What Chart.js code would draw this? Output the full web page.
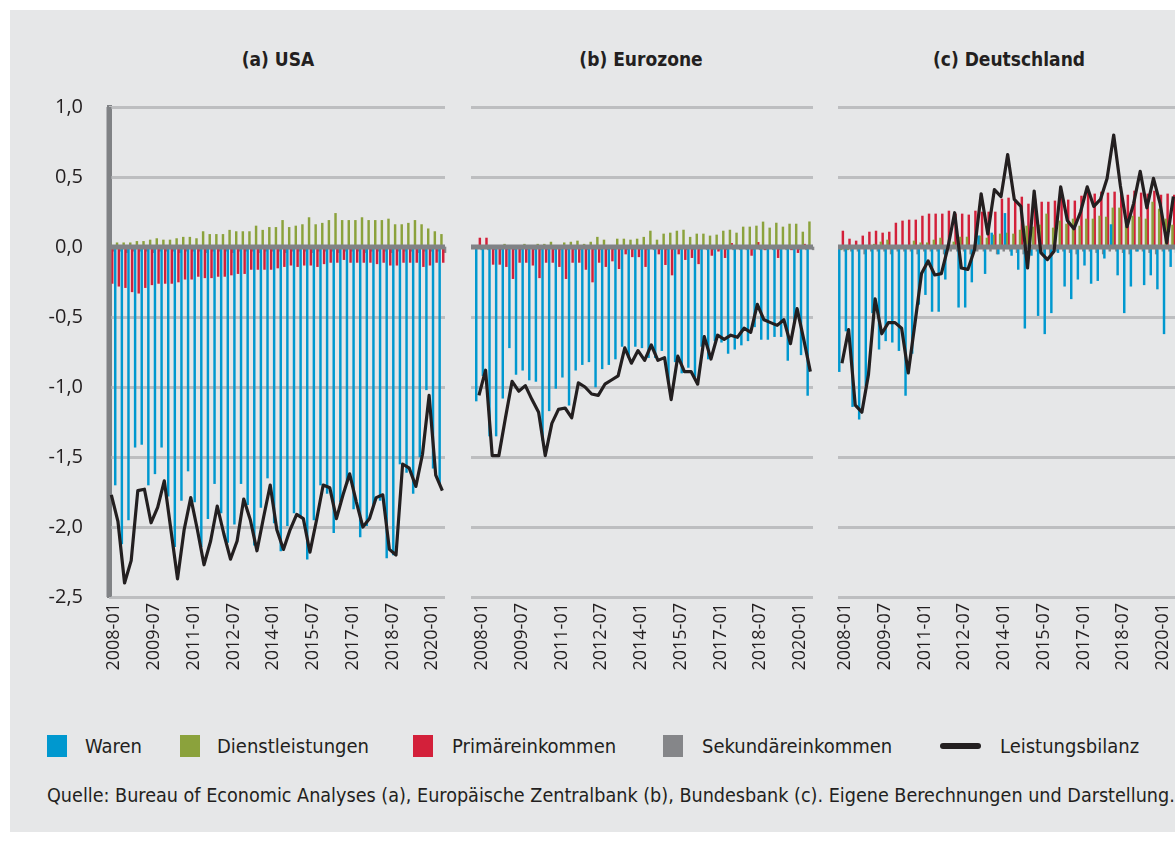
<!DOCTYPE html>
<html lang="de">
<head>
<meta charset="utf-8">
<script src="https://cdn.jsdelivr.net/npm/chart.js@4.4.0/dist/chart.umd.min.js"></script>
<style>
  html, body { margin: 0; padding: 0; background: #fff; width: 1175px; height: 847px; overflow: hidden; }
  #frame { position: absolute; left: 10px; top: 10px; width: 1175px; height: 822px; background: #e6e7e8; }
  canvas { position: absolute; }
  .title { position: absolute; top: 47px; font: bold 19px "DejaVu Sans Condensed", sans-serif;
           color: #231f20; transform: translateX(-50%); white-space: nowrap; line-height: 24px; }
  .sw { position: absolute; top: 735px; width: 20px; height: 22px; }
  .lt { position: absolute; top: 733px; font: 20px "DejaVu Sans Condensed", sans-serif;
        color: #231f20; line-height: 26px; white-space: nowrap; }
  #src { position: absolute; left: 47px; top: 783px; font: 19.6px "DejaVu Sans Condensed", sans-serif;
         color: #231f20; line-height: 26px; white-space: nowrap; }
</style>
</head>
<body>
<div id="frame"></div>
<div class="title" style="left:278px">(a) USA</div>
<div class="title" style="left:641px">(b) Eurozone</div>
<div class="title" style="left:1009px">(c) Deutschland</div>
<canvas id="usa"></canvas>
<canvas id="ez"></canvas>
<canvas id="de"></canvas>
<div id="legend"></div>
<div id="src">Quelle: Bureau of Economic Analyses (a), Europäische Zentralbank (b), Bundesbank (c). Eigene Berechnungen und Darstellung.</div>
<script>
// quarters 2008-01 .. 2020-07
const quarters = [
  "2008-01","2008-04","2008-07","2008-10","2009-01","2009-04","2009-07","2009-10",
  "2010-01","2010-04","2010-07","2010-10","2011-01","2011-04","2011-07","2011-10",
  "2012-01","2012-04","2012-07","2012-10","2013-01","2013-04","2013-07","2013-10",
  "2014-01","2014-04","2014-07","2014-10","2015-01","2015-04","2015-07","2015-10",
  "2016-01","2016-04","2016-07","2016-10","2017-01","2017-04","2017-07","2017-10",
  "2018-01","2018-04","2018-07","2018-10","2019-01","2019-04","2019-07","2019-10",
  "2020-01","2020-04","2020-07"
];
const tickPos = [0, 6, 12, 18, 24, 30, 36, 42, 48];
const yTicks = [1.0, 0.5, 0.0, -0.5, -1.0, -1.5, -2.0, -2.5];

// (a) USA
const usaWaren = [-1.51,-1.70,-2.12,-1.95,-1.43,-1.41,-1.70,-1.62,-1.43,-1.78,-2.14,-1.81,-1.60,-1.82,-2.14,-1.94,-1.69,
  -1.90,-2.11,-1.98,-1.69,-1.84,-2.13,-1.86,-1.65,-1.97,-2.17,-1.99,-1.90,-1.93,-2.23,-1.95,-1.70,-1.76,-2.04,-1.82,
  -1.69,-1.87,-2.07,-1.99,-1.84,-1.81,-2.22,-2.20,-1.55,-1.61,-1.76,-1.50,-1.02,-1.58,-1.69];
const usaDienst = [0.03,0.03,0.03,0.03,0.04,0.04,0.05,0.06,0.05,0.05,0.06,0.07,0.07,0.06,0.11,0.09,0.09,0.09,0.12,0.11,
  0.11,0.11,0.15,0.12,0.14,0.14,0.19,0.14,0.15,0.16,0.21,0.16,0.17,0.19,0.24,0.19,0.19,0.19,0.21,0.19,0.19,0.19,0.20,
  0.16,0.16,0.17,0.19,0.16,0.13,0.11,0.09];
const usaPrimaer = [-0.26,-0.28,-0.29,-0.32,-0.33,-0.29,-0.27,-0.26,-0.26,-0.26,-0.25,-0.23,-0.23,-0.21,-0.22,-0.22,
  -0.21,-0.21,-0.20,-0.19,-0.19,-0.16,-0.16,-0.16,-0.16,-0.15,-0.14,-0.13,-0.14,-0.13,-0.13,-0.14,-0.12,-0.11,-0.11,
  -0.09,-0.11,-0.11,-0.11,-0.11,-0.12,-0.11,-0.13,-0.13,-0.11,-0.11,-0.11,-0.14,-0.13,-0.11,-0.11];
const usaSekundaer = [-0.03,-0.03,-0.04,-0.03,-0.03,-0.03,-0.04,-0.03,-0.03,-0.03,-0.04,-0.03,-0.03,-0.03,-0.04,-0.03,
  -0.03,-0.03,-0.04,-0.03,-0.03,-0.03,-0.04,-0.03,-0.03,-0.03,-0.04,-0.03,-0.03,-0.03,-0.04,-0.03,-0.03,-0.03,-0.04,
  -0.03,-0.03,-0.03,-0.04,-0.03,-0.03,-0.03,-0.04,-0.03,-0.03,-0.03,-0.04,-0.03,-0.03,-0.03,-0.04];
const usaBilanz = [-1.77,-1.96,-2.40,-2.24,-1.74,-1.73,-1.97,-1.86,-1.67,-2.02,-2.37,-2.02,-1.79,-2.02,-2.27,-2.10,
  -1.85,-2.05,-2.23,-2.10,-1.80,-1.95,-2.17,-1.93,-1.70,-2.02,-2.16,-2.02,-1.91,-1.94,-2.18,-1.95,-1.70,-1.72,-1.94,
  -1.77,-1.62,-1.82,-2.00,-1.94,-1.79,-1.77,-2.16,-2.20,-1.55,-1.58,-1.71,-1.48,-1.06,-1.63,-1.74];

// (b) Eurozone
const ezWaren = [-1.10,-0.92,-1.35,-1.35,-1.08,-0.72,-0.91,-0.88,-0.95,-0.96,-1.38,-1.17,-1.01,-0.93,-1.13,-0.88,-0.84,
  -0.82,-1.00,-0.87,-0.84,-0.80,-0.71,-0.79,-0.71,-0.72,-0.79,-0.79,-0.74,-0.97,-0.82,-0.90,-0.86,-0.93,-0.71,-0.80,
  -0.67,-0.68,-0.76,-0.73,-0.70,-0.67,-0.57,-0.66,-0.66,-0.64,-0.64,-0.81,-0.54,-0.77,-1.06];
const ezDienst = [0.00,0.00,0.00,0.00,0.02,0.01,0.01,0.02,0.01,0.02,0.02,0.035,0.01,0.03,0.035,0.043,0.02,0.035,0.07,
  0.05,0.01,0.057,0.057,0.05,0.057,0.07,0.114,0.05,0.093,0.10,0.114,0.121,0.07,0.093,0.093,0.079,0.086,0.114,0.121,
  0.10,0.143,0.143,0.15,0.179,0.136,0.171,0.143,0.164,0.164,0.107,0.18];
const ezPrimaer = [0.064,0.064,-0.124,-0.124,-0.14,-0.226,-0.11,-0.11,-0.13,-0.22,-0.11,-0.11,-0.14,-0.226,-0.11,-0.11,
  -0.16,-0.25,-0.11,-0.14,-0.10,-0.155,-0.05,-0.07,-0.07,-0.14,0.0,-0.05,-0.126,-0.20,-0.05,-0.09,-0.076,-0.12,0.0,
  -0.06,-0.03,-0.076,0.026,0.0,0.0,-0.06,0.033,-0.02,0.0,-0.076,0.0,-0.02,-0.04,0.02,0.01];
const ezSekundaer = [-0.02,-0.02,-0.02,-0.02,-0.02,-0.02,-0.02,-0.02,-0.02,-0.02,-0.02,-0.02,-0.02,-0.02,-0.02,-0.02,
  -0.02,-0.02,-0.02,-0.02,-0.02,-0.02,-0.02,-0.02,-0.02,-0.02,-0.02,-0.02,-0.02,-0.02,-0.02,-0.02,-0.02,-0.02,-0.02,
  -0.02,-0.02,-0.02,-0.02,-0.02,-0.02,-0.02,-0.02,-0.02,-0.02,-0.02,-0.02,-0.02,-0.02,-0.02,-0.02];
const ezBilanz = [-1.06,-0.88,-1.49,-1.49,-1.22,-0.96,-1.03,-0.99,-1.09,-1.18,-1.49,-1.26,-1.16,-1.15,-1.22,-0.97,-1.00,
  -1.05,-1.06,-0.98,-0.95,-0.92,-0.72,-0.83,-0.74,-0.81,-0.70,-0.81,-0.79,-1.09,-0.78,-0.89,-0.89,-0.98,-0.64,-0.80,
  -0.63,-0.66,-0.63,-0.645,-0.58,-0.61,-0.41,-0.52,-0.54,-0.56,-0.52,-0.69,-0.44,-0.66,-0.89];

// (c) Deutschland
const deWaren = [-0.89,-0.60,-1.14,-1.23,-0.99,-0.47,-0.73,-0.67,-0.68,-0.74,-1.06,-0.76,-0.41,-0.34,-0.46,-0.46,-0.23,
  0.0,-0.43,-0.43,-0.25,0.08,-0.19,0.10,-0.05,0.24,-0.06,-0.16,-0.58,-0.06,-0.49,-0.62,-0.47,-0.04,-0.28,-0.37,-0.23,
  -0.13,-0.26,-0.24,-0.08,0.16,-0.20,-0.47,-0.28,-0.03,-0.27,-0.20,-0.30,-0.62,-0.14];
const deDienst = [-0.02,-0.02,0.0,0.0,0.0,0.02,0.036,0.05,0.0,0.0,0.0,0.043,0.03,0.03,0.05,0.064,0.0,0.036,0.071,0.071,
  0.0,0.079,0.064,0.086,0.093,0.10,0.093,0.121,0.15,0.143,0.157,0.236,0.136,0.186,0.164,0.20,0.15,0.20,0.20,0.221,
  0.214,0.279,0.279,0.193,0.221,0.214,0.20,0.321,0.271,0.20,0.157];
const dePrimaer = [0.114,0.057,0.043,0.079,0.107,0.114,0.10,0.107,0.171,0.186,0.193,0.193,0.221,0.236,0.236,0.236,
  0.257,0.236,0.236,0.229,0.257,0.25,0.25,0.25,0.343,0.35,0.336,0.357,0.307,0.343,0.321,0.321,0.329,0.364,0.336,0.329,
  0.364,0.393,0.379,0.393,0.386,0.393,0.386,0.371,0.40,0.386,0.379,0.40,0.371,0.379,0.371];
const deSekundaer = [-0.03,-0.03,-0.03,-0.05,-0.03,-0.03,-0.03,-0.05,-0.03,-0.03,-0.03,-0.05,-0.03,-0.03,-0.03,-0.05,
  -0.03,-0.03,-0.03,-0.05,-0.03,-0.03,-0.03,-0.05,-0.03,-0.03,-0.04,-0.05,-0.03,-0.03,-0.04,-0.05,-0.03,-0.03,-0.04,
  -0.05,-0.03,-0.03,-0.04,-0.05,-0.03,-0.03,-0.04,-0.05,-0.03,-0.03,-0.04,-0.05,-0.03,-0.03,-0.04];
const deBilanz = [-0.83,-0.59,-1.13,-1.18,-0.91,-0.37,-0.62,-0.54,-0.54,-0.58,-0.90,-0.55,-0.19,-0.10,-0.20,-0.19,0.0,
  0.245,-0.15,-0.16,-0.02,0.38,0.093,0.41,0.36,0.66,0.34,0.29,-0.15,0.40,-0.04,-0.09,-0.03,0.43,0.19,0.13,0.25,0.43,
  0.29,0.34,0.49,0.80,0.44,0.145,0.31,0.54,0.28,0.49,0.31,0.03,0.36];

const seriesNames = ["Waren", "Dienstleistungen", "Primäreinkommen", "Sekundäreinkommen", "Leistungsbilanz"];
const colors = ["#0098cf", "#8ba23c", "#d3203a", "#858689", "#231f20"];

const QW = 6.63;        // px per quarter
const X_MAX = 50.4;
const FONT = "'Open Sans', 'Noto Sans', sans-serif";

//-----------plugin: grey grid lines under the bars, zero line and y axis line over the bars-----------
const panelLines = {
  id: "panelLines",
  beforeDatasetsDraw(chart) {
    const { ctx, chartArea, scales } = chart;
    ctx.save();
    ctx.strokeStyle = "#bdbec0";
    ctx.lineWidth = 3;
    yTicks.forEach((v) => {
      if (v === 0) return;
      const y = Math.round(scales.y.getPixelForValue(v)) + 0.5;
      ctx.beginPath();
      ctx.moveTo(chartArea.left, y);
      ctx.lineTo(chartArea.right, y);
      ctx.stroke();
    });
    ctx.restore();
  },
  beforeDatasetDraw(chart, args) {
    if (args.meta.type !== "line") return;
    const { ctx, chartArea, scales } = chart;
    const y = scales.y.getPixelForValue(0);
    ctx.save();
    ctx.strokeStyle = "#808285";
    ctx.lineWidth = 5;
    ctx.beginPath();
    ctx.moveTo(chartArea.left, y);
    ctx.lineTo(chartArea.right, y);
    ctx.stroke();
    if (scales.y.options.border.display) {
      ctx.beginPath();
      ctx.moveTo(chartArea.left, chartArea.top);
      ctx.lineTo(chartArea.left, chartArea.bottom);
      ctx.stroke();
    }
    ctx.restore();
  },
};

const toPoints = (arr) => arr.map((v, i) => ({ x: i, y: v }));

const barSet = (label, data, color) => ({
  type: "bar",
  label: label,
  data: toPoints(data),
  backgroundColor: color,
  barThickness: 1.8,
  clip: false,
  order: 2,
});

const makePanel = (id, left, axisW, xMin, showY, waren, dienst, primaer, sekundaer, bilanz) => {
  const canvas = document.getElementById(id);
  const padR = 4;
  const w = axisW + Math.round((X_MAX - xMin) * QW) + padR;
  canvas.width = w;
  canvas.height = 600;
  canvas.style.left = left + "px";
  canvas.style.top = "90px";

  return new Chart(canvas, {
    type: "bar",
    data: {
      datasets: [
        barSet(seriesNames[0], waren, colors[0]),
        barSet(seriesNames[1], dienst, colors[1]),
        barSet(seriesNames[2], primaer, colors[2]),
        barSet(seriesNames[3], sekundaer, colors[3]),
        {
          type: "line",
          label: seriesNames[4],
          data: toPoints(bilanz),
          borderColor: colors[4],
          borderWidth: 3.2,
          pointRadius: 0,
          tension: 0,
          borderJoinStyle: "round",
          order: 1,
        },
      ],
    },
    options: {
      responsive: false,
      animation: false,
      events: [],
      layout: { padding: { top: 17, right: padR, bottom: 0, left: 0 } },
      plugins: { legend: { display: false }, tooltip: { enabled: false } },
      scales: {
        x: {
          type: "linear",
          offset: false,
          min: xMin,
          max: X_MAX,
          afterFit: (s) => { s.height = 93; s.paddingLeft = 0; s.paddingRight = 0; },
          afterBuildTicks: (s) => { s.ticks = tickPos.map((v) => ({ value: v })); },
          ticks: {
            autoSkip: false,
            minRotation: 90,
            maxRotation: 90,
            padding: 6,
            labelOffset: 3,
            color: "#231f20",
            font: { family: FONT, size: 18 },
            callback: (v) => quarters[v],
          },
          grid: { display: false, drawTicks: false, offset: false },
          border: { display: false },
        },
        y: {
          min: -2.5,
          max: 1.0,
          afterFit: (s) => { s.width = axisW; s.paddingTop = 0; s.paddingBottom = 0; },
          afterBuildTicks: (s) => { s.ticks = yTicks.map((v) => ({ value: v })); },
          ticks: {
            display: showY,
            autoSkip: false,
            padding: 26,
            color: "#231f20",
            font: { family: FONT, size: 20 },
            callback: (v) => v.toFixed(1).replace(".", ","),
          },
          grid: { display: false, drawTicks: false },
          border: { display: showY, color: "#808285", width: 5 },
        },
      },
    },
    plugins: [panelLines],
  });
};

makePanel("usa", 0, 109, -0.35, true, usaWaren, usaDienst, usaPrimaer, usaSekundaer, usaBilanz);
makePanel("ez", 451, 20, -1.2, false, ezWaren, ezDienst, ezPrimaer, ezSekundaer, ezBilanz);
makePanel("de", 818, 20, -0.6, false, deWaren, deDienst, dePrimaer, deSekundaer, deBilanz);

//------------legend-----------
const legendX = [47, 180, 413, 663, 940];
const legendTextX = [85, 217, 452, 702, 1000];
const legend = document.getElementById("legend");
seriesNames.forEach((name, i) => {
  const sw = document.createElement("div");
  sw.className = "sw";
  sw.style.left = legendX[i] + "px";
  sw.style.background = colors[i];
  if (i === 4) {
    sw.style.width = "41px";
    sw.style.height = "6px";
    sw.style.top = "743px";
    sw.style.borderRadius = "3px";
  }
  legend.appendChild(sw);
  const t = document.createElement("div");
  t.className = "lt";
  t.style.left = legendTextX[i] + "px";
  t.textContent = name;
  legend.appendChild(t);
});
</script>
</body>
</html>
